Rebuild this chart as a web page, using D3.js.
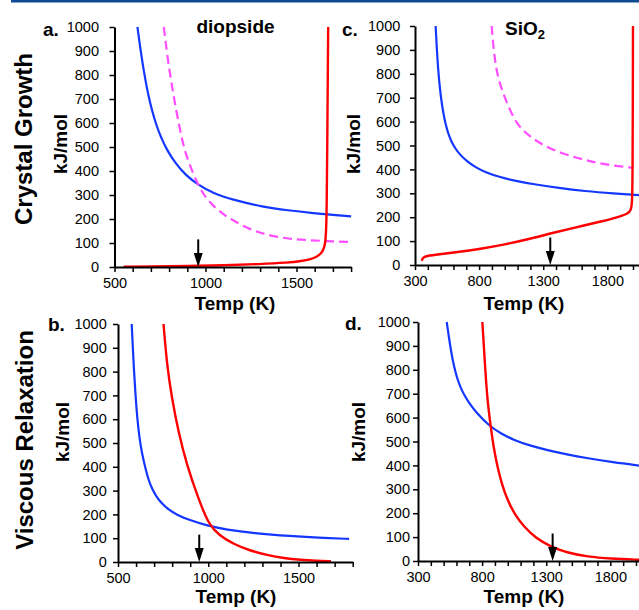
<!DOCTYPE html>
<meta charset="utf-8">
<style>

body {
  margin: 0;
  background: #fff;
}

svg {
  display: block;
  font-family: "Liberation Sans", Arial, sans-serif;
}

.axis path {
  stroke: #000;
  stroke-width: 2px;
}

.axis line {
  stroke: #000;
  stroke-width: 1.5px;
}

.axis text {
  font-family: "Liberation Sans", Arial, sans-serif;
  font-size: 14.5px;
  fill: #000;
}

.lab {
  font-weight: bold;
  font-size: 19px;
}

.row {
  font-weight: bold;
  font-size: 24px;
}

.curve {
  fill: none;
}

</style>
<body>
<script src="https://cdn.jsdelivr.net/npm/d3@7/dist/d3.min.js"></script>
<script>

// [Temp (K), kJ/mol]
var growthDiopsideBlue = [[626,1000],[640,920],[655,845],[670,778],[686,715],[705,655],[728,595],[755,540],[790,485],[832,435],[890,383],[960,342],[1042,307],[1150,280],[1316,250],[1450,236],[1600,224],[1700,217],[1800,211]];
var growthDiopsideMagenta = [[771,1000],[790,880],[810,780],[830,690],[855,590],[880,500],[910,430],[963,335],[1000,290],[1046,252],[1100,218],[1156,192],[1230,162],[1302,142],[1380,127],[1467,117],[1560,112],[1660,108],[1800,104]];
var growthDiopsideRed = [[550,1],[700,2],[900,4],[1100,7],[1300,12],[1450,18],[1530,25],[1580,33],[1610,42],[1635,55],[1650,75],[1658,100],[1663,150],[1666,250],[1669,500],[1672,800],[1674,1000]];

var growthSilicaBlue = [[461,1000],[470,905],[480,822],[492,750],[505,690],[520,638],[538,590],[560,548],[585,515],[615,487],[650,462],[700,436],[773,408],[850,388],[950,369],[1100,350],[1236,337],[1420,322],[1623,309],[1850,299],[2050,292]];
var growthSilicaMagenta = [[898,1000],[910,920],[929,830],[960,760],[1007,690],[1060,625],[1111,579],[1200,535],[1319,495],[1450,466],[1579,446],[1700,430],[1813,418],[2000,407]];
var growthSilicaRed = [[352,18],[362,30],[380,37],[450,42],[600,52],[851,71],[1000,86],[1200,110],[1371,134],[1550,157],[1761,183],[1900,203],[1960,215],[1985,230],[1994,260],[1997,400],[1999,700],[2000,1000]];

var viscDiopsideBlue = [[576,1000],[582,900],[589,800],[597,700],[607,600],[619,520],[633,455],[650,400],[670,342],[690,305],[712,276],[740,248],[780,220],[826,198],[900,175],[993,153],[1100,136],[1252,121],[1450,109],[1650,101],[1780,97]];
var viscDiopsideRed = [[752,1000],[771,830],[798,690],[835,545],[882,405],[946,265],[1002,158],[1060,112],[1141,75],[1230,48],[1326,29],[1420,16],[1511,9],[1600,5],[1680,3]];

var viscSilicaBlue = [[524,1000],[540,940],[560,870],[581,813],[605,765],[630,728],[660,695],[700,660],[760,618],[854,566],[950,532],[1049,506],[1170,483],[1309,464],[1460,446],[1621,430],[1820,413],[2030,399]];
var viscSilicaRed = [[802,1000],[823,813],[841,674],[867,562],[890,475],[919,395],[955,320],[997,255],[1060,190],[1127,144],[1220,95],[1335,60],[1470,34],[1621,18],[1800,10],[2030,5]];

var arrowTemps = [960, 950, 1355, 1350];
var arrowTop = 115;

var yTicks = d3.range(0, 1001, 100);
var xTicksDiopside = d3.range(500, 1801, 100);
var xTicksSilica = d3.range(300, 2101, 100);
var xLabelEvery = 500;

var blue = "#1437ff",
    red = "#ff0000",
    magenta = "#ff4dff";

var w = 639,
    h = 610;

var svg = d3.select("body").append("svg")
    .attr("width", w)
    .attr("height", h);

svg.append("rect")
    .attr("x", 11)
    .attr("y", 0)
    .attr("width", w - 11)
    .attr("height", 2.5)
    .attr("fill", "#0d4a91");

var panels = [
  {tag: "a.", tagX: 43, tagY: 35.5, xd: [500, 1800], xr: [114.5, 351.1], yr: [267, 27], pad: 10.5, ticks: xTicksDiopside,
   kX: 67, kY: 144, tX: 235, tY: 310,
   curves: [[growthDiopsideBlue, blue, null], [growthDiopsideMagenta, magenta, "9,5"], [growthDiopsideRed, red, null]]},
  {tag: "b.", tagX: 48, tagY: 330.5, xd: [500, 1800], xr: [118, 352.7], yr: [562, 324], pad: 6.3, ticks: xTicksDiopside,
   kX: 69, kY: 432, tX: 236, tY: 603,
   curves: [[viscDiopsideBlue, blue, null], [viscDiopsideRed, red, null]]},
  {tag: "c.", tagX: 342, tagY: 35.5, xd: [300, 2100], xr: [415, 645.8], yr: [265, 26], pad: 9.7, ticks: xTicksSilica,
   kX: 360, kY: 144, tX: 524, tY: 310,
   curves: [[growthSilicaBlue, blue, null], [growthSilicaMagenta, magenta, "9,5"], [growthSilicaRed, red, null]]},
  {tag: "d.", tagX: 345, tagY: 330, xd: [300, 2100], xr: [418, 648.8], yr: [561, 322], pad: 3, ticks: xTicksSilica,
   kX: 365, kY: 432, tX: 524, tY: 603,
   curves: [[viscSilicaBlue, blue, null], [viscSilicaRed, red, null]]}
];

panels.forEach(function(p, i) {
  var x = d3.scaleLinear().domain(p.xd).range(p.xr),
      y = d3.scaleLinear().domain([0, 1000]).range(p.yr);

  var line = d3.line()
      .x(function(d) { return x(d[0]); })
      .y(function(d) { return y(d[1]); })
      .curve(d3.curveBasis);

  var g = svg.append("g");

  g.selectAll("path.curve")
      .data(p.curves)
    .enter().append("path")
      .attr("class", "curve")
      .attr("d", function(d) { return line(d[0]); })
      .attr("stroke", function(d) { return d[1]; })
      .attr("stroke-width", function(d) { return d[1] === red ? 2.4 : 2.2; })
      .attr("stroke-dasharray", function(d) { return d[2]; });

  g.append("g")
      .attr("class", "axis")
      .attr("transform", "translate(" + p.xr[0] + ",0)")
      .call(d3.axisLeft(y).tickValues(yTicks).tickSize(5).tickSizeOuter(0).tickPadding(p.pad)
        .tickFormat(d3.format("d")));

  g.append("g")
      .attr("class", "axis")
      .attr("transform", "translate(0," + p.yr[0] + ")")
      .call(d3.axisBottom(x).tickValues(p.ticks).tickSize(5).tickSizeOuter(0).tickPadding(6)
        .tickFormat(function(d) { return (d - p.xd[0]) % xLabelEvery === 0 && d < 2000 ? d : ""; }));

  // arrow
  var ax = x(arrowTemps[i]), ay = y(0);
  g.append("line")
      .attr("x1", ax).attr("x2", ax)
      .attr("y1", y(arrowTop)).attr("y2", ay - 10)
      .attr("stroke", "#000")
      .attr("stroke-width", 2);
  g.append("path")
      .attr("d", "M" + (ax - 4.5) + "," + (ay - 14) + "L" + (ax + 4.5) + "," + (ay - 14) + "L" + ax + "," + ay + "Z")
      .attr("fill", "#000");

  g.append("text")
      .attr("class", "lab")
      .attr("x", p.tagX)
      .attr("y", p.tagY)
      .text(p.tag);

  g.append("text")
      .attr("class", "lab")
      .attr("text-anchor", "middle")
      .attr("transform", "translate(" + p.kX + "," + p.kY + ")rotate(-90)")
      .text("kJ/mol");

  g.append("text")
      .attr("class", "lab")
      .attr("text-anchor", "middle")
      .attr("x", p.tX)
      .attr("y", p.tY)
      .text("Temp (K)");
});

svg.append("text")
    .attr("class", "lab")
    .attr("text-anchor", "middle")
    .attr("x", 235.5)
    .attr("y", 33)
    .text("diopside");

var si = svg.append("text")
    .attr("class", "lab")
    .attr("x", 505)
    .attr("y", 35);
si.append("tspan").text("SiO");
si.append("tspan").attr("font-size", "13px").attr("dy", 4).text("2");

svg.append("text")
    .attr("class", "row")
    .attr("text-anchor", "middle")
    .attr("transform", "translate(32,139)rotate(-90)")
    .text("Crystal Growth");

svg.append("text")
    .attr("class", "row")
    .attr("text-anchor", "middle")
    .attr("transform", "translate(33,440)rotate(-90)")
    .text("Viscous Relaxation");

</script>
</body>
